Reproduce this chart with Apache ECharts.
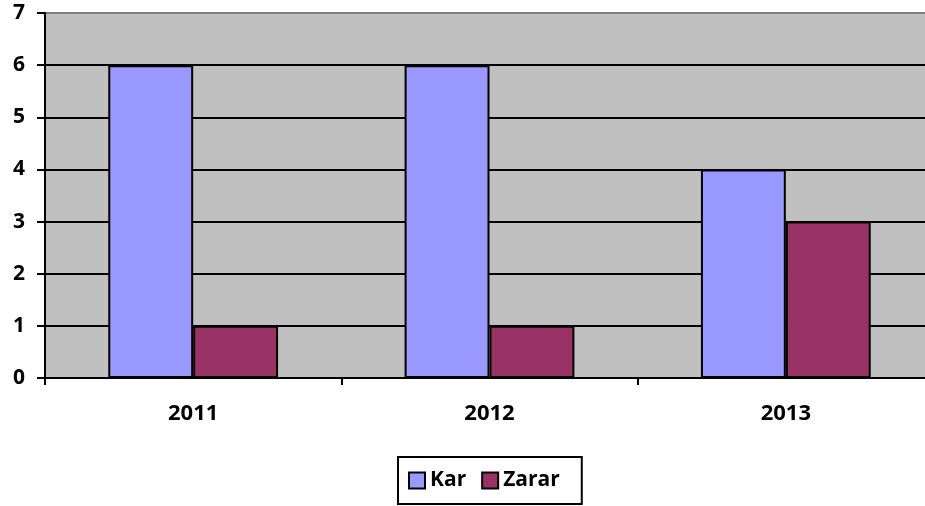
<!DOCTYPE html>
<html><head><meta charset="utf-8">
<script src="https://cdn.jsdelivr.net/npm/echarts@6/dist/echarts.min.js"></script>
<style>html,body{margin:0;padding:0;background:#fff}#c{width:925px;height:506px}</style>
</head><body><div id="c"></div>
<script>
const categories = ['2011', '2012', '2013'];
const karValues = [6, 6, 4];
const zararValues = [1, 1, 3];
const yTicks = [0, 1, 2, 3, 4, 5, 6, 7];

const chart = echarts.init(document.getElementById('c'));
const font = '"Open Sans", "Liberation Sans", sans-serif';
chart.setOption({
  animation: false,
  textStyle: { fontFamily: font },
  grid: { left: 45, right: -9, top: 13, bottom: 128, outerBoundsMode: 'none', show: true, backgroundColor: '#C0C0C0', borderColor: '#808080', borderWidth: 2, containLabel: false },
  legend: {
    data: ['Kar', 'Zarar'], left: 398, bottom: 2,
    itemWidth: 16, itemHeight: 16, itemGap: 15, icon: 'rect',
    borderColor: '#000', borderWidth: 2, padding: [13, 22, 13, 10],
    textStyle: { fontSize: 21, fontWeight: 'bold', color: '#000', fontFamily: font, padding: [0, 0, 0, 0] }
  },
  xAxis: {
    type: 'category', data: categories,
    axisLine: { lineStyle: { color: '#000', width: 2 } },
    axisTick: { show: true, length: 7, lineStyle: { color: '#000', width: 2 } },
    axisLabel: { fontSize: 22, fontWeight: 'bold', color: '#000', margin: 25, fontFamily: font },
    splitLine: { show: false }
  },
  yAxis: {
    type: 'value', min: yTicks[0], max: yTicks[yTicks.length - 1], interval: 1,
    axisLine: { show: true, lineStyle: { color: '#000', width: 2 } },
    axisTick: { show: true, length: 8, lineStyle: { color: '#000', width: 2 } },
    axisLabel: { fontSize: 21, fontWeight: 'bold', color: '#000', margin: 20, fontFamily: font },
    splitLine: { show: true, showMaxLine: false, lineStyle: { color: '#000', width: 2 } }
  },
  series: [
    { name: 'Kar', type: 'bar', data: karValues, barGap: '0%', barCategoryGap: '42.7%',
      itemStyle: { color: '#9999FF', borderColor: '#000', borderWidth: 2 } },
    { name: 'Zarar', type: 'bar', data: zararValues, barGap: '0%', barCategoryGap: '42.7%',
      itemStyle: { color: '#993366', borderColor: '#000', borderWidth: 2 } }
  ]
});
</script></body></html>
